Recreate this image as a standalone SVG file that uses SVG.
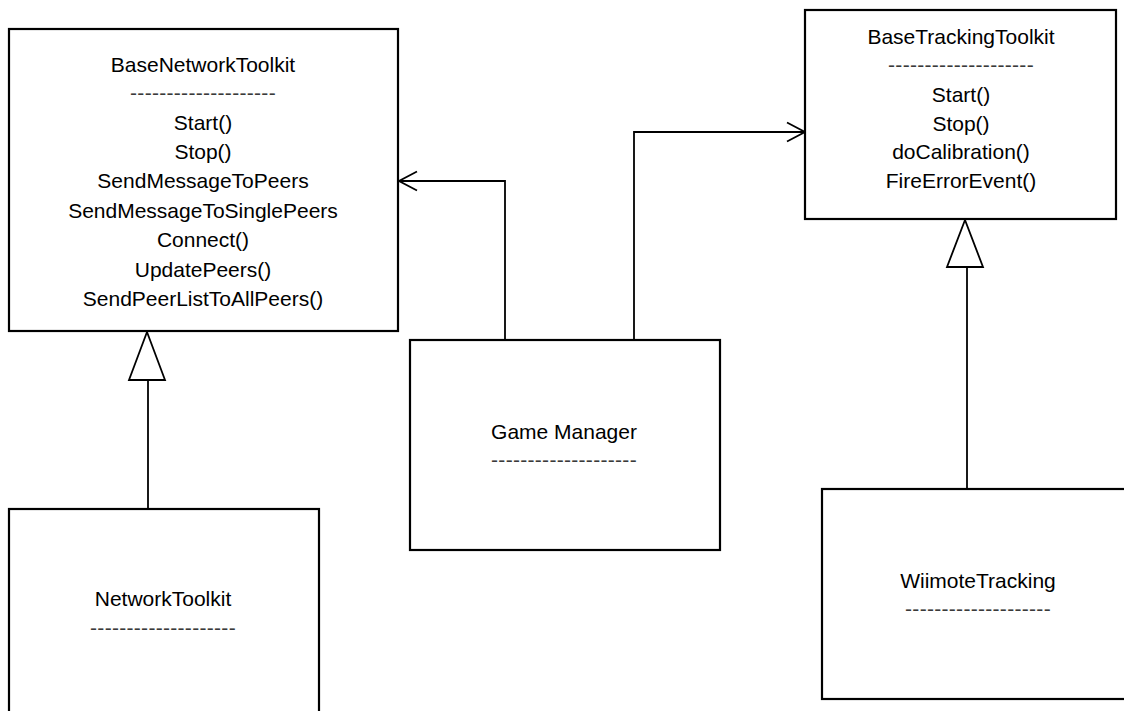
<svg xmlns="http://www.w3.org/2000/svg" width="1124" height="711" viewBox="0 0 1124 711">
  <style>
    .box { fill: #ffffff; stroke: #000000; stroke-width: 2.2; }
    .lbl { font-family: "Liberation Sans", Arial, sans-serif; font-size: 21px; fill: #000000; text-anchor: middle; }
    .sep { font-family: "Liberation Sans", Arial, sans-serif; font-size: 21px; fill: #3a3a3a; text-anchor: middle; letter-spacing: 0.3px; }
    .conn { fill: none; stroke: #000000; stroke-width: 1.8; }
    .gen { fill: #ffffff; stroke: #000000; stroke-width: 1.8; stroke-linejoin: miter; }
  </style>
  <defs>
    <marker id="open-arrow" viewBox="0 0 20 22" refX="19" refY="11" markerWidth="20" markerHeight="22" markerUnits="userSpaceOnUse" orient="auto">
      <path d="M1,1.5 L19,11 L1,20.5" fill="none" stroke="#000000" stroke-width="1.8"/>
    </marker>
  </defs>
  <rect width="1124" height="711" fill="#ffffff"/>

  <!-- connectors -->
  <g id="connectors">
    <!-- Game Manager uses BaseNetworkToolkit -->
    <polyline class="conn" points="505,340 505,181 399,181" marker-end="url(#open-arrow)"/>
    <!-- Game Manager uses BaseTrackingToolkit -->
    <polyline class="conn" points="634,340 634,132 805,132" marker-end="url(#open-arrow)"/>
    <!-- NetworkToolkit extends BaseNetworkToolkit -->
    <line class="conn" x1="148" y1="509" x2="148" y2="380"/>
    <polygon class="gen" points="147,332 129,380 165,380"/>
    <!-- WiimoteTracking extends BaseTrackingToolkit -->
    <line class="conn" x1="967" y1="489" x2="967" y2="267"/>
    <polygon class="gen" points="965,220 947,267 983,267"/>
  </g>

  <g id="base-network-toolkit">
    <rect class="box" x="9" y="29" width="389" height="302"/>
    <text class="lbl" x="203" y="72">BaseNetworkToolkit</text>
    <text class="sep" x="203" y="100">--------------------</text>
    <text class="lbl" x="203" y="130">Start()</text>
    <text class="lbl" x="203" y="159">Stop()</text>
    <text class="lbl" x="203" y="188">SendMessageToPeers</text>
    <text class="lbl" x="203" y="218">SendMessageToSinglePeers</text>
    <text class="lbl" x="203" y="247">Connect()</text>
    <text class="lbl" x="203" y="277">UpdatePeers()</text>
    <text class="lbl" x="203" y="306">SendPeerListToAllPeers()</text>
  </g>

  <g id="base-tracking-toolkit">
    <rect class="box" x="805" y="10" width="311" height="209"/>
    <text class="lbl" x="961" y="44">BaseTrackingToolkit</text>
    <text class="sep" x="961" y="72">--------------------</text>
    <text class="lbl" x="961" y="102">Start()</text>
    <text class="lbl" x="961" y="131">Stop()</text>
    <text class="lbl" x="961" y="159">doCalibration()</text>
    <text class="lbl" x="961" y="188">FireErrorEvent()</text>
  </g>

  <g id="game-manager">
    <rect class="box" x="410" y="340" width="310" height="210"/>
    <text class="lbl" x="564" y="439">Game Manager</text>
    <text class="sep" x="564" y="467">--------------------</text>
  </g>

  <g id="network-toolkit">
    <rect class="box" x="9" y="509" width="310" height="230"/>
    <text class="lbl" x="163" y="606">NetworkToolkit</text>
    <text class="sep" x="163" y="635">--------------------</text>
  </g>

  <g id="wiimote-tracking">
    <rect class="box" x="822" y="489" width="320" height="210"/>
    <text class="lbl" x="978" y="588">WiimoteTracking</text>
    <text class="sep" x="978" y="616">--------------------</text>
  </g>
</svg>
